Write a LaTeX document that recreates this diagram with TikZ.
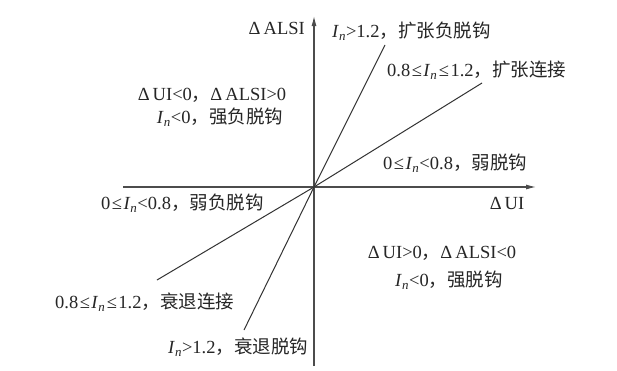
\documentclass[tikz,border=0pt]{standalone}
\usepackage{fontspec}
\setmainfont{Liberation Serif}
\newfontfamily\cjk{Noto Sans CJK SC}
\usetikzlibrary{arrows.meta}
\newcommand{\In}{\textit{I}\textsubscript{\textit{n}}}
\newcommand{\myle}{\kern1.5pt≤\kern1.5pt}
\begin{document}
\begin{tikzpicture}[x=1pt,y=-1pt,
  lbl/.style={inner sep=0pt, font=\fontsize{18.5}{20}\selectfont, text=black!85},
  axis/.style={draw=black!70, line width=1.1pt, -{Latex[length=10pt,width=5pt]}},
  ray/.style={draw=black!80, line width=1pt}]
\useasboundingbox (0,0) rectangle (617,370);
\fill[white] (0,0) rectangle (617,370);
\coordinate (O) at (314,187);
\coordinate (xl) at (123,187);
\coordinate (xr) at (536,187);
\coordinate (yb) at (314,366);
\coordinate (yt) at (314,16);
\coordinate (s1) at (244,330);
\coordinate (s2) at (385,45);
\coordinate (h1) at (157,280);
\coordinate (h2) at (482,83);
\draw[axis] (xl) -- (xr);
\draw[axis] (yb) -- (yt);
\draw[ray] (s1) -- (O) -- (s2);
\draw[ray] (h1) -- (O) -- (h2);
\node[lbl, anchor=east] (dalsi) at (305,28) {Δ\,ALSI};
\node[lbl, anchor=west] (t1) at (332,31) {\In>1.2{\cjk ，扩张负脱钩}};
\node[lbl, anchor=west] (t2) at (387,70) {0.8\myle\In\myle1.2{\cjk ，扩张连接}};
\node[lbl] (q2a) at (212,95) {Δ\,UI<0{\cjk ，}Δ\,ALSI>0};
\node[lbl] (q2b) at (220,117) {\In<0{\cjk ，强负脱钩}};
\node[lbl, anchor=west] (t3) at (383,163) {0\myle\In<0.8{\cjk ，弱脱钩}};
\node[lbl] (dui) at (507,203) {Δ\,UI};
\node[lbl, anchor=west] (t4) at (101,203) {0\myle\In<0.8{\cjk ，弱负脱钩}};
\node[lbl] (q4a) at (442,253) {Δ\,UI>0{\cjk ，}Δ\,ALSI<0};
\node[lbl] (q4b) at (449,280) {\In<0{\cjk ，强脱钩}};
\node[lbl, anchor=west] (t5) at (55,302) {0.8\myle\In\myle1.2{\cjk ，衰退连接}};
\node[lbl, anchor=west] (t6) at (168,347) {\In>1.2{\cjk ，衰退脱钩}};
\end{tikzpicture}
\end{document}
